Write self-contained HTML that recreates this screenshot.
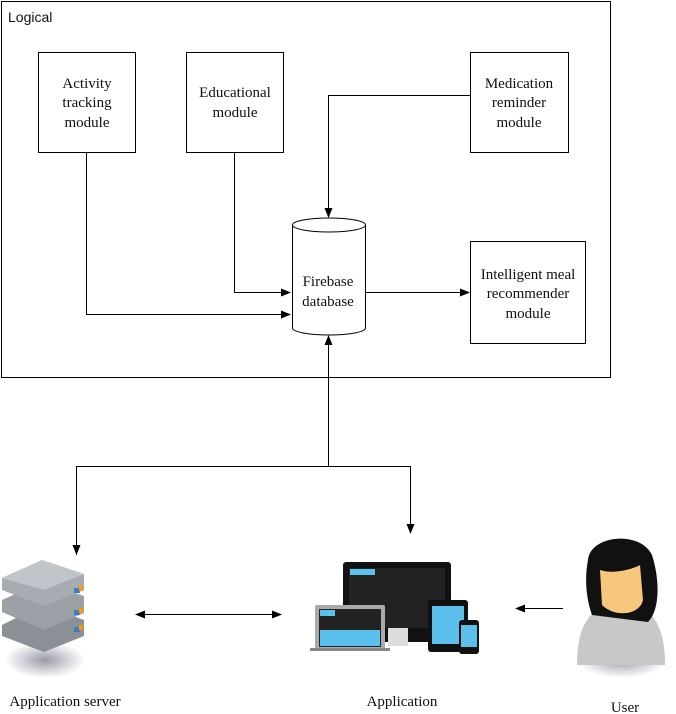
<!DOCTYPE html>
<html><head><style>body{margin:0;background:#fff}svg{display:block}text{font-family:"Liberation Serif",serif;font-size:15px;fill:#111}</style></head><body>
<svg width="676" height="714" viewBox="0 0 676 714">
<defs><marker id="a" markerWidth="10" markerHeight="8" refX="9" refY="4" orient="auto" markerUnits="userSpaceOnUse"><path d="M0,0 L10,4 L0,8z" fill="#000"/></marker>
<radialGradient id="sh"><stop offset="0" stop-color="#9a9aa8"/><stop offset="1" stop-color="#fff"/></radialGradient></defs>
<rect x="1.5" y="1.5" width="609" height="376" fill="none" stroke="#000"/>
<text x="8" y="22" style="font-family:'Liberation Sans',sans-serif;font-size:14px">Logical</text>
<g fill="none" stroke="#000" stroke-width="1">
<rect x="38.5" y="52.5" width="97" height="100"/>
<rect x="186.5" y="52.5" width="97" height="100"/>
<rect x="470.5" y="52.5" width="98" height="100"/>
<rect x="470.5" y="241.5" width="115" height="102"/>
<path d="M292.5,225 v103 a36.5,7 0 0 0 73,0 v-103" fill="#fff"/>
<ellipse cx="329" cy="225" rx="36.5" ry="7" fill="#fff"/>
<path d="M86.5,152 V314.5 H290" marker-end="url(#a)"/>
<path d="M234.5,152 V292.5 H290" marker-end="url(#a)"/>
<path d="M470,95.5 H328.5 V217" marker-end="url(#a)"/>
<path d="M366,292.5 H469" marker-end="url(#a)"/>
<path d="M328.5,466 V336" marker-end="url(#a)"/>
<path d="M76.5,555 V466.5 H410.5 V533" marker-end="url(#a)"/>
<path d="M76.5,466.5 V554" marker-end="url(#a)"/>
<path d="M145,614.5 H281" marker-end="url(#a)"/>
<path d="M200,614.5 H136" marker-end="url(#a)"/>
<path d="M563,608.5 H516" marker-end="url(#a)"/>
</g>
<g text-anchor="middle">
<text x="87" y="88">Activity</text><text x="87" y="107">tracking</text><text x="87" y="127">module</text>
<text x="235" y="97">Educational</text><text x="235" y="117">module</text>
<text x="519" y="88">Medication</text><text x="519" y="107">reminder</text><text x="519" y="127">module</text>
<text x="528" y="279">Intelligent meal</text><text x="528" y="298">recommender</text><text x="528" y="318">module</text>
<text x="328" y="286">Firebase</text><text x="328" y="306">database</text>
<text x="65" y="706">Application server</text>
<text x="402" y="706">Application</text>
<text x="625" y="712">User</text>
</g>
<!-- server -->
<ellipse cx="45" cy="660" rx="40" ry="18" fill="url(#sh)"/>
<g>
<path d="M2,625 L42,605 L84,620 L84,636 L44,652 L2,636z" fill="#8b9096"/>
<path d="M2,600 L42,582 L84,596 L84,613 L44,630 L2,612z" fill="#9aa0a6"/>
<path d="M2,578 L42,560 L84,574 L84,590 L44,606 L2,590z" fill="#a6acb2"/>
<path d="M2,578 L42,560 L84,574 L44,590z" fill="#c0c5ca"/>
<rect x="74" y="588" width="6" height="5" fill="#3a7fc0"/><rect x="79" y="586" width="4" height="5" fill="#f90"/>
<rect x="74" y="610" width="6" height="5" fill="#3a7fc0"/><rect x="79" y="608" width="4" height="5" fill="#f90"/>
<rect x="74" y="627" width="6" height="5" fill="#3a7fc0"/><rect x="79" y="625" width="4" height="5" fill="#f90"/>
</g>
<!-- devices -->
<rect x="343" y="562" width="108" height="80" rx="3" fill="#111"/>
<rect x="349" y="568" width="96" height="60" fill="#222"/>
<rect x="350" y="569" width="25" height="6" fill="#5bc0eb"/>
<rect x="388" y="628" width="20" height="18" fill="#ddd"/>
<rect x="315" y="605" width="70" height="45" rx="2" fill="#aaa"/>
<rect x="319" y="609" width="62" height="38" fill="#222"/>
<rect x="320" y="630" width="60" height="16" fill="#5bc0eb"/>
<rect x="320" y="610" width="15" height="6" fill="#5bc0eb"/>
<rect x="310" y="648" width="80" height="3" fill="#888"/>
<rect x="428" y="600" width="40" height="52" rx="3" fill="#111"/>
<rect x="432" y="606" width="32" height="38" fill="#5bc0eb"/>
<rect x="459" y="620" width="20" height="34" rx="3" fill="#111"/>
<rect x="461" y="625" width="16" height="22" fill="#5bc0eb"/>
<!-- user -->
<ellipse cx="622" cy="660" rx="45" ry="18" fill="url(#sh)"/>
<path d="M577,665 C577,625 590,605 620,603 C655,603 665,630 665,665z" fill="#c8c8c8"/>
<path d="M588,560 C590,535 640,530 652,555 C660,580 660,610 648,622 L592,615 C585,595 585,575 588,560z" fill="#111"/>
<path d="M600,570 C615,575 635,568 640,565 L643,600 C640,615 615,618 602,605z" fill="#f7c77d"/>
</svg>
</body></html>
